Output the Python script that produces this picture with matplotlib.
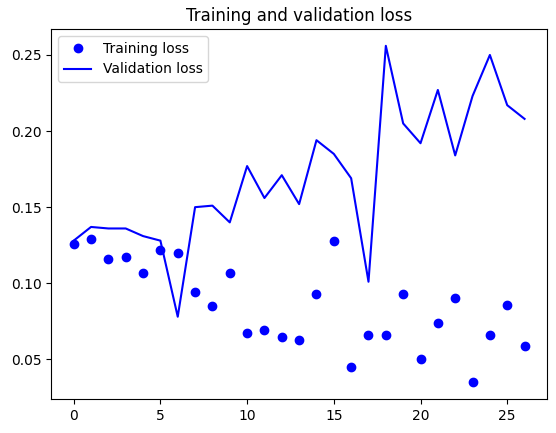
import matplotlib
matplotlib.use('Agg')
import matplotlib.pyplot as plt

epochs = list(range(27))
loss = [0.126, 0.129, 0.116, 0.117, 0.107, 0.122, 0.120, 0.094, 0.085, 0.107,
        0.067, 0.069, 0.065, 0.063, 0.093, 0.128, 0.045, 0.066, 0.066, 0.093,
        0.050, 0.074, 0.090, 0.035, 0.066, 0.086, 0.059]
val_loss = [0.128, 0.137, 0.136, 0.136, 0.131, 0.128, 0.078, 0.150, 0.151, 0.140,
            0.177, 0.156, 0.171, 0.152, 0.194, 0.185, 0.169, 0.101, 0.256, 0.205,
            0.192, 0.227, 0.184, 0.223, 0.250, 0.217, 0.208]

fig = plt.figure(figsize=(5.56, 4.33), dpi=100)
ax = fig.add_axes([0.092, 0.0785, 0.892, 0.8545])
ax.plot(epochs, loss, 'bo', label='Training loss')
ax.plot(epochs, val_loss, 'b', label='Validation loss')
ax.set_title('Training and validation loss')
ax.legend(loc='upper left')
fig.savefig('out.png', dpi=100)
